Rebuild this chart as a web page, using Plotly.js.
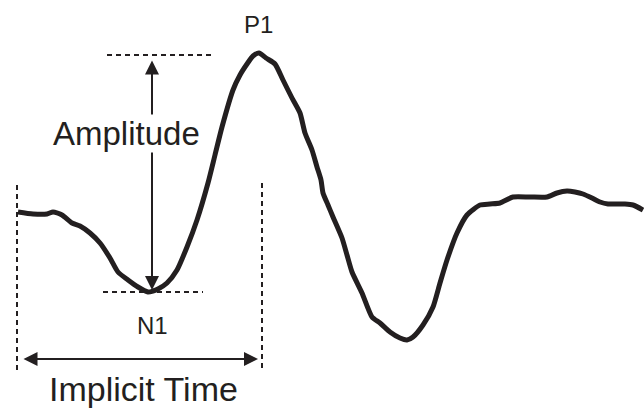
<!DOCTYPE html>
<html>
<head>
<meta charset="utf-8">
<script src="https://cdn.plot.ly/plotly-3.0.1.min.js"></script>
<style>html,body{margin:0;padding:0;background:#fff;}#chart{width:644px;height:409px;}</style>
</head>
<body>
<div id="chart"></div>
<script>
// Waveform: time (arbitrary units) and amplitude (arbitrary units)
const time = [18,33,47,53,62,72,80,90,100,110,118,128,138,148,153,158,167,177,187,197,208,215,222,233,240,247,253,259,266,275,283,292,300,305,312,317,321,323,328,333,342,347,352,362,372,380,390,400,407,413,423,433,440,447,457,467,480,490,500,513,530,547,557,567,575,583,592,600,608,617,625,633,643];
const ampY = [212,214,214,212,215,223,226,233,243,258,272,280,287,292,291,289,283,270,247,220,183,155,127,90,75,64,56,53,58,64,80,98,113,133,150,167,180,193,205,217,238,255,272,293,317,323,332,338,340,337,325,307,283,260,233,215,205,204,203,197,197,197,193,191,192,194,198,202,204,204,204,205,210];
const H = 409;
const amplitude = ampY.map(v => H - v);

// Key points
const n1Time = 152, n1Amp = H - 291;
const p1Time = 259, p1Amp = H - 55;
const baseStart = 17, implicitEnd = 262;

const labels = {p1: 'P1', n1: 'N1', amp: 'Amplitude', it: 'Implicit Time'};

const ink = '#231f20';
const trace = {
  x: time, y: amplitude, type: 'scatter', mode: 'lines',
  line: {color: ink, width: 5, shape: 'spline', smoothing: 0.6},
  hoverinfo: 'skip'
};

const dash = {color: ink, width: 2, dash: '5px,4px'};
const shapes = [
  {type: 'line', x0: baseStart, x1: baseStart, y0: H - 185, y1: H - 372, line: dash},
  {type: 'line', x0: implicitEnd, x1: implicitEnd, y0: H - 183, y1: H - 372, line: dash},
  {type: 'line', x0: 107, x1: 213, y0: p1Amp, y1: p1Amp, line: dash},
  {type: 'line', x0: 103, x1: 203, y0: n1Amp - 1, y1: n1Amp - 1, line: dash}
];

const fam = "'Liberation Sans', Arial, Helvetica, sans-serif";
const annotations = [
  // Amplitude double arrow
  {x: n1Time, y: n1Amp + 1, ax: n1Time, ay: p1Amp - 4, xref: 'x', yref: 'y', axref: 'x', ayref: 'y',
   text: '', showarrow: true, arrowhead: 2, startarrowhead: 2, arrowside: 'end+start',
   arrowsize: 1.4, startarrowsize: 1.4, arrowwidth: 2, arrowcolor: ink, standoff: 0, startstandoff: 0},
  // Implicit time double arrow
  {x: implicitEnd - 4, y: H - 359, ax: baseStart + 5, ay: H - 359, xref: 'x', yref: 'y', axref: 'x', ayref: 'y',
   text: '', showarrow: true, arrowhead: 2, startarrowhead: 2, arrowside: 'end+start',
   arrowsize: 1.4, startarrowsize: 1.4, arrowwidth: 2, arrowcolor: ink, standoff: 0, startstandoff: 0},
  {x: 126, y: H - 133, text: labels.amp, showarrow: false, bgcolor: '#ffffff',
   font: {family: fam, size: 33, color: ink}, xanchor: 'center', yanchor: 'middle', borderpad: 0},
  {x: 258, y: H - 24, text: labels.p1, showarrow: false,
   font: {family: fam, size: 24, color: ink}, xanchor: 'center', yanchor: 'middle'},
  {x: 152, y: H - 325, text: labels.n1, showarrow: false,
   font: {family: fam, size: 24, color: ink}, xanchor: 'center', yanchor: 'middle'},
  {x: 143, y: H - 389, text: labels.it, showarrow: false,
   font: {family: fam, size: 34, color: ink}, xanchor: 'center', yanchor: 'middle', borderpad: 0}
];

const layout = {
  width: 644, height: 409,
  margin: {l: 0, r: 0, t: 0, b: 0},
  paper_bgcolor: '#ffffff', plot_bgcolor: '#ffffff',
  showlegend: false,
  xaxis: {range: [0, 644], visible: false, fixedrange: true},
  yaxis: {range: [0, 409], visible: false, fixedrange: true},
  shapes: shapes,
  annotations: annotations
};

Plotly.newPlot('chart', [trace], layout, {staticPlot: true, displayModeBar: false});
</script>
</body>
</html>
